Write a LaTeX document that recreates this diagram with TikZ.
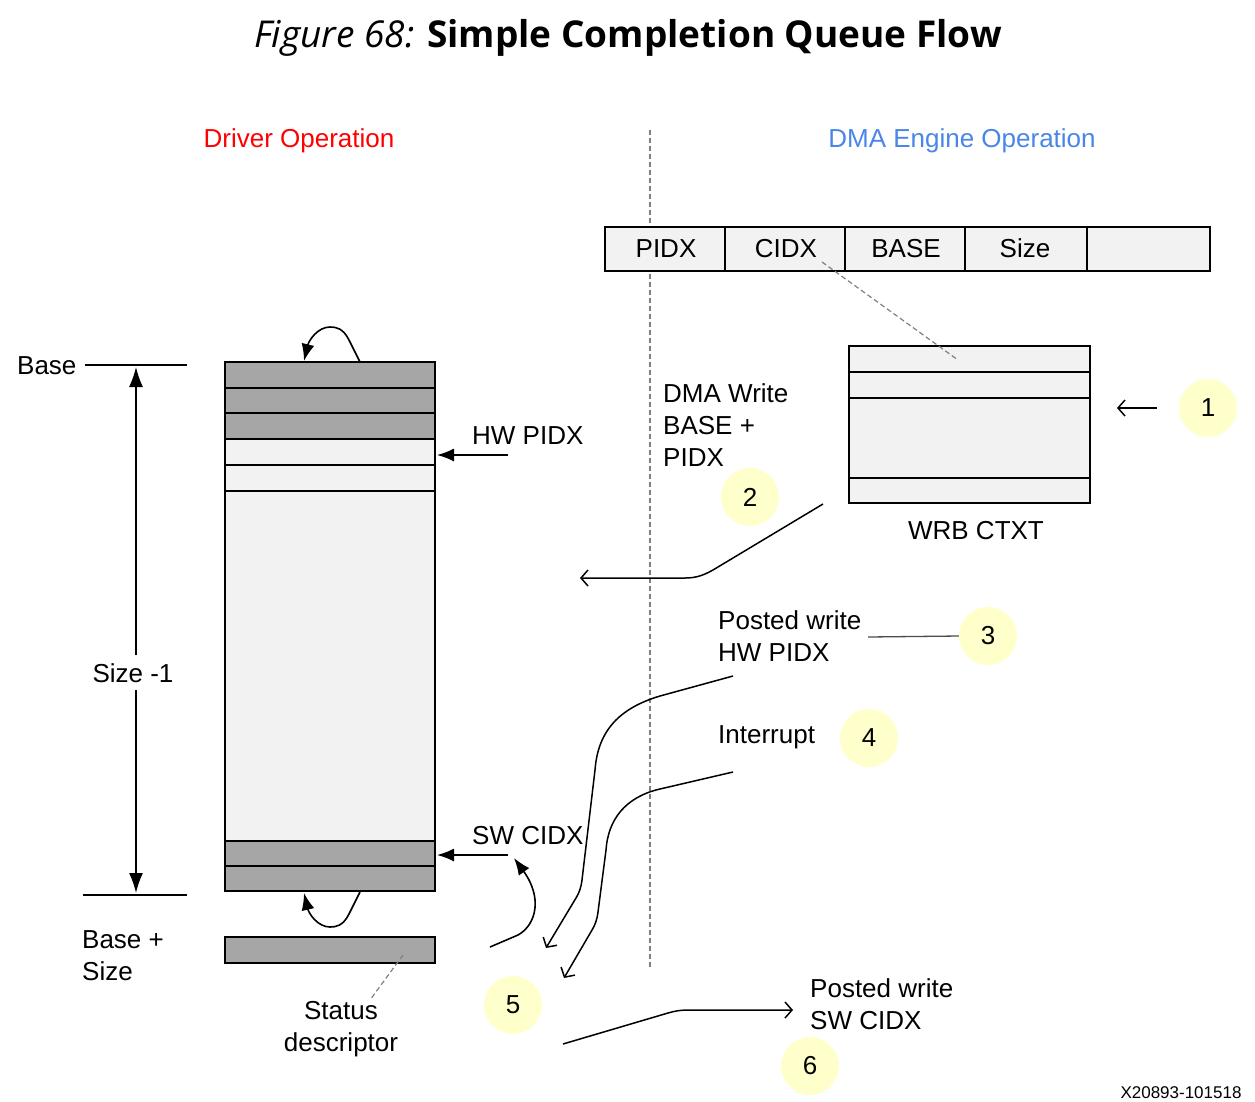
\documentclass[tikz,border=0pt]{standalone}
\usepackage{fontspec}
\setmainfont{Liberation Sans}
\newfontfamily\titlefont{Open Sans}
\usetikzlibrary{arrows.meta}
\definecolor{cellgray}{HTML}{A6A6A6}
\definecolor{celllight}{HTML}{F2F2F2}
\definecolor{numyellow}{HTML}{FFFFCC}
\definecolor{dmablue}{HTML}{4A86E8}
\definecolor{drvred}{HTML}{FF0000}
\definecolor{dashgray}{HTML}{808080}
\begin{document}
\begin{tikzpicture}[x=1pt,y=-1pt,
  font=\fontsize{26}{30}\selectfont,
  lbl/.style={inner sep=0pt, anchor=base west},
  lblc/.style={inner sep=0pt, anchor=base},
  cell/.style={draw=black, line width=2.6pt},
  numcirc/.style={circle, fill=numyellow, minimum size=58pt, inner sep=0pt},
  solidarrow/.style={line width=1.6pt, -{Latex[length=17pt,width=13pt]}},
  openarrow/.style={line width=1.5pt, -{Straight Barb[length=7pt,width=16pt]}},
  thinline/.style={line width=1.6pt},
  dashline/.style={draw=dashgray, line width=1.2pt, dash pattern=on 5pt off 3pt}
]
\useasboundingbox (0,0) rectangle (1255,1101);
\fill[white] (0,0) rectangle (1255,1101);

% title
\node[lblc] (title) at (628,47) {\titlefont\fontsize{37}{42}\selectfont\textit{Figure 68:} \textbf{Simple Completion Queue Flow}};

% headings
\node[lblc, text=drvred] (drv) at (299,147) {Driver Operation};
\node[lblc, text=dmablue] (dma) at (962,147) {DMA Engine Operation};

% separator
\coordinate (sepT) at (650,130);
\coordinate (sepB) at (650,968);
\draw[dashline] (sepT) -- (sepB);

% register row
\foreach \xa/\xb in {605/725,725/845,845/965,965/1087,1087/1210}
  \draw[cell, fill=celllight] (\xa,227) rectangle (\xb,271);
\node[lblc] (rPIDX) at (666,257) {PIDX};
\node[lblc] (rCIDX) at (786,257) {CIDX};
\node[lblc] (rBASE) at (906,257) {BASE};
\node[lblc] (rSize) at (1025,257) {Size};

% WRB CTXT box
\draw[cell, fill=celllight] (849,346) rectangle (1090,503);
\draw[cell] (849,372) -- (1090,372);
\draw[cell] (849,398) -- (1090,398);
\draw[cell] (849,478) -- (1090,478);
\node[lblc] (wrb) at (976,539) {WRB CTXT};
\coordinate (cidxA) at (822,262);
\coordinate (cidxB) at (958,360);
\draw[dashline] (cidxA) -- (cidxB);

% step 1
\node[numcirc] (n1) at (1208,408) {1};
\coordinate (a1s) at (1157,408);
\coordinate (a1e) at (1117,408);
\draw[openarrow] (a1s) -- (a1e);

% step 2
\node[lbl] (dw1) at (663,402) {DMA Write};
\node[lbl] (dw2) at (663,434) {BASE +};
\node[lbl] (dw3) at (663,466) {PIDX};
\node[numcirc] (n2) at (750,497) {2};
\coordinate (a2s) at (823,504);
\coordinate (a2e) at (580,578);
\draw[openarrow] (a2s) -- (718,567) .. controls (705,575) and (697,578) .. (685,578) -- (a2e);

% step 3
\node[lbl] (pw1) at (718,629) {Posted write};
\node[lbl] (pw2) at (718,661) {HW PIDX};
\node[numcirc] (n3) at (988,636) {3};
\coordinate (l3s) at (868,637);
\draw[draw=black!70, line width=1.3pt] (l3s) -- (n3.west);
\coordinate (a3s) at (733,676);
\coordinate (a3e) at (546,948);
\draw[openarrow] (a3s) -- (660,696) .. controls (620,708) and (598,730) .. (595,770) -- (582,880) .. controls (581,888) and (579,893) .. (576,898) -- (a3e);

% step 4
\node[lbl] (intr) at (718,743) {Interrupt};
\node[numcirc] (n4) at (869,738) {4};
\coordinate (a4s) at (733,772);
\coordinate (a4e) at (564,978);
\draw[openarrow] (a4s) -- (660,789) .. controls (625,797) and (608,820) .. (606,850) -- (598,912) .. controls (597,920) and (595,925) .. (592,930) -- (a4e);

% queue
\foreach \ya/\yb/\c in {362/388/cellgray,388/413/cellgray,413/439/cellgray,439/465/celllight,465/491/celllight,491/841/celllight,841/866/cellgray,866/891/cellgray}
  \draw[cell, fill=\c] (225,\ya) rectangle (435,\yb);
\draw[cell, fill=cellgray] (225,937) rectangle (435,963);

% loops
\coordinate (lt1) at (360,362);
\coordinate (lt2) at (304,361);
\draw[solidarrow] (lt1) -- (349,340) .. controls (343,328) and (336,327) .. (330,327) .. controls (318,327) and (309,340) .. (lt2);
\coordinate (lb1) at (360,892);
\coordinate (lb2) at (304,893);
\draw[solidarrow] (lb1) -- (349,914) .. controls (343,926) and (336,927) .. (330,927) .. controls (318,927) and (309,914) .. (lb2);

% HW PIDX / SW CIDX pointers
\node[lbl] (hwp) at (472,444) {HW PIDX};
\coordinate (hwpS) at (508,455);
\coordinate (hwpE) at (437,455);
\draw[solidarrow] (hwpS) -- (hwpE);
\node[lbl] (swc) at (472,844) {SW CIDX};
\coordinate (swcS) at (508,855);
\coordinate (swcE) at (437,855);
\draw[solidarrow] (swcS) -- (swcE);

% step 5
\coordinate (a5s) at (490,947);
\coordinate (a5e) at (514,858);
\draw[solidarrow] (a5s) -- (518,935) .. controls (536,925) and (543,898) .. (a5e);
\node[numcirc] (n5) at (513,1005) {5};

% status descriptor
\node[lblc] (st1) at (341,1019) {Status};
\node[lblc] (st2) at (341,1051) {descriptor};
\coordinate (stA) at (403,955);
\coordinate (stB) at (370,1000);
\draw[dashline] (stA) -- (stB);

% step 6
\coordinate (a6s) at (563,1044);
\coordinate (a6e) at (793,1010);
\draw[openarrow] (a6s) -- (668,1013) .. controls (675,1011) and (680,1010) .. (690,1010) -- (a6e);
\node[lbl] (pw3) at (810,997) {Posted write};
\node[lbl] (pw4) at (810,1029) {SW CIDX};
\node[numcirc] (n6) at (810,1066) {6};

% left dimension
\node[lbl] (base) at (17,374) {Base};
\coordinate (bl1) at (85,365);
\coordinate (bl2) at (187,365);
\draw[line width=2pt] (bl1) -- (bl2);
\coordinate (bb1) at (83,895);
\coordinate (bb2) at (187,895);
\draw[line width=2pt] (bb1) -- (bb2);
\coordinate (dT) at (136,367);
\coordinate (dB) at (136,893);
\draw[line width=1.5pt, {Latex[length=20pt,width=14pt]}-{Latex[length=20pt,width=14pt]}] (dT) -- (dB);
\node[lblc, fill=white, inner ysep=8pt, inner xsep=0pt] (sz) at (133,682) {Size -1};
\node[lbl] (bs1) at (82,948) {Base +};
\node[lbl] (bs2) at (82,980) {Size};

% footer
\node[lblc] (foot) at (1181,1098) {\fontsize{17}{20}\selectfont X20893-101518};
\end{tikzpicture}
\end{document}
